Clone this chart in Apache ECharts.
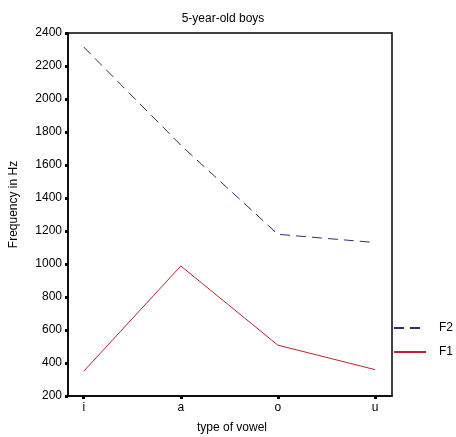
<!DOCTYPE html>
<html>
<head>
<meta charset="utf-8">
<script src="https://cdn.jsdelivr.net/npm/echarts@6/dist/echarts.min.js"></script>
<style>
  html, body { margin: 0; padding: 0; background: #fff; }
  #chart { width: 456px; height: 437px; }
</style>
</head>
<body>
<div id="chart"></div>
<script>
// Mean formant frequencies of 5-year-old boys, per vowel
var vowels = ['i', 'a', 'o', 'u'];
var f2Values = [2315, 1720, 1180, 1130];
var f1Values = [350, 988, 508, 360];
var yTicks = [200, 400, 600, 800, 1000, 1200, 1400, 1600, 1800, 2000, 2200, 2400];

var FONT = '"Liberation Sans", Arial, sans-serif';

function toPoints(values) {
  return values.map(function (v, i) { return [i, v]; });
}

var chart = echarts.init(document.getElementById('chart'), null, { renderer: 'canvas' });

chart.setOption({
  backgroundColor: '#fff',
  animation: false,
  title: {
    text: '5-year-old boys',
    left: 218,
    top: 8,
    textAlign: 'center',
    textStyle: { fontFamily: FONT, fontSize: 12, fontWeight: 'normal', color: '#000' }
  },
  legend: {
    orient: 'vertical',
    left: 393,
    top: 322,
    padding: 0,
    itemWidth: 32,
    itemHeight: 8,
    itemGap: 12,
    data: ['F2', 'F1'],
    itemStyle: { opacity: 0 },
    textStyle: { fontFamily: FONT, fontSize: 12, color: '#000', padding: [0, 0, 0, 8] }
  },
  grid: {
    left: 68,
    top: 33,
    right: 64,
    bottom: 41,
    containLabel: false,
    outerBoundsMode: 'none',
    show: true,
    borderColor: '#000',
    borderWidth: 1.5,
    backgroundColor: 'transparent'
  },
  xAxis: {
    type: 'value',
    min: -0.162,
    max: 3.175,
    name: 'type of vowel',
    nameLocation: 'middle',
    nameGap: 26,
    nameTextStyle: { fontFamily: FONT, fontSize: 12, color: '#000', padding: [0, 0, 0, 4] },
    splitLine: { show: false },
    axisLine: { show: true, onZero: false, lineStyle: { color: '#000', width: 1.5 } },
    axisTick: {
      show: true,
      inside: false,
      customValues: [0, 1, 2, 3],
      length: 3,
      lineStyle: { color: '#000', width: 3 }
    },
    axisLabel: {
      customValues: [0, 1, 2, 3],
      margin: 6,
      fontFamily: FONT,
      fontSize: 12,
      color: '#000',
      formatter: function (v) { return vowels[Math.round(v)]; }
    }
  },
  yAxis: {
    type: 'value',
    min: 200,
    max: 2400,
    name: 'Frequency in Hz',
    nameLocation: 'middle',
    nameGap: 48,
    nameTextStyle: { fontFamily: FONT, fontSize: 12, color: '#000', padding: [0, 0, 0, 20] },
    splitLine: { show: false },
    axisLine: { show: true, onZero: false, lineStyle: { color: '#000', width: 1.5 } },
    axisTick: {
      show: true,
      inside: false,
      customValues: yTicks,
      length: 3,
      lineStyle: { color: '#000', width: 3 }
    },
    axisLabel: {
      customValues: yTicks,
      margin: 6,
      fontFamily: FONT,
      fontSize: 12,
      color: '#000',
      formatter: function (v) { return String(v); }
    }
  },
  series: [
    {
      name: 'F2',
      type: 'line',
      data: toPoints(f2Values),
      symbol: 'none',
      color: '#2b2f7a',
      lineStyle: { color: '#2b2f7a', width: 1, type: [10, 6] }
    },
    {
      name: 'F1',
      type: 'line',
      data: toPoints(f1Values),
      symbol: 'none',
      color: '#b5242f',
      lineStyle: { color: '#b5242f', width: 1, type: 'solid' }
    }
  ]
});
</script>
</body>
</html>
